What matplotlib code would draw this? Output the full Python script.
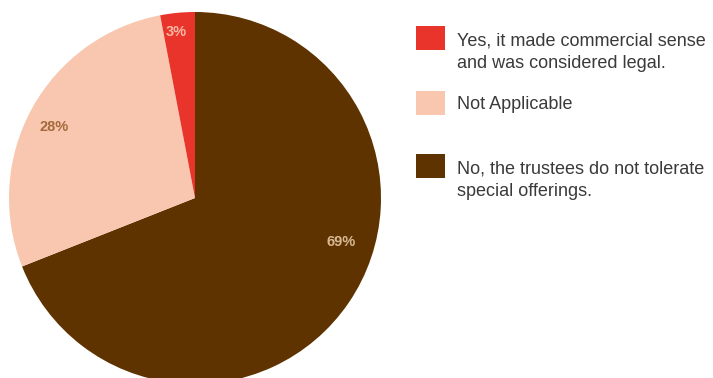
import numpy as np
import matplotlib.pyplot as plt
from matplotlib.patches import Rectangle

labels = ['No, the trustees do not tolerate\nspecial offerings.',
          'Not Applicable',
          'Yes, it made commercial sense\nand was considered legal.']
shares = [69, 28, 3]
colors = ['#5E3300', '#F9C7B0', '#E8342A']
pct_colors = ['#D8B894', '#A46A3C', '#F9B9A4']
# where each % label sits: (angle in deg, radius fraction)
pct_pos = [(-16.8, 0.82), (153.3, 0.85), (96.5, 0.90)]

W, H = 713, 378
fig = plt.figure(figsize=(W / 100, H / 100), dpi=100)
plt.rcParams['font.family'] = ['Liberation Sans', 'DejaVu Sans']

# pie axes: centre (195,198) px, radius 186 px
cx, cy, r = 195, 198, 186
ax = fig.add_axes([(cx - r) / W, 1 - (cy + r) / H, 2 * r / W, 2 * r / H])
ax.pie(shares, colors=colors, startangle=90, counterclock=False,
       radius=1, wedgeprops=dict(linewidth=0))
ax.set_xlim(-1, 1)
ax.set_ylim(-1, 1)
ax.set_aspect('auto')
ax.axis('off')

for s, (ang, rf), c in zip(shares, pct_pos, pct_colors):
    a = np.deg2rad(ang)
    ax.text(rf * np.cos(a), rf * np.sin(a), f'{s}%', color=c,
            fontsize=10.5, fontweight='bold', ha='center', va='center')

# legend, drawn top to bottom
legend_order = [2, 1, 0]
box_tops = [26, 91, 154]
text_tops = [32, 96, 160]
for i, top, tt in zip(legend_order, box_tops, text_tops):
    fig.patches.append(Rectangle((416 / W, 1 - (top + 24) / H), 29 / W, 24 / H,
                                 transform=fig.transFigure, facecolor=colors[i],
                                 edgecolor='none'))
    fig.text(457 / W, 1 - tt / H, labels[i], color='#3a3a3a',
             fontsize=13, va='top', ha='left', linespacing=1.5)

fig.savefig('out.png', dpi=100)
